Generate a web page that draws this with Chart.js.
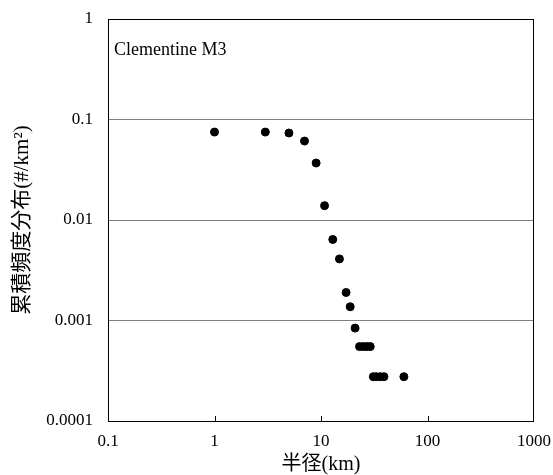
<!DOCTYPE html>
<html>
<head>
<meta charset="utf-8">
<script src="https://cdn.jsdelivr.net/npm/chart.js@4.4.0/dist/chart.umd.min.js"></script>
<style>
  body { margin: 0; background: #fff; }
  #wrap { width: 553px; height: 475px; }
</style>
</head>
<body>
<div id="wrap"><canvas id="craterChart" width="553" height="475"></canvas></div>
<script>
// radius (km) vs cumulative frequency (#/km^2)
const radiusKm = [1, 3, 5, 7, 9, 10.8, 12.9, 14.9, 17.2, 18.8, 20.9, 23, 25, 27, 29, 31, 33, 36, 39, 60];
const cumFreq = [0.075, 0.075, 0.0734, 0.061, 0.0369, 0.0139, 0.0064, 0.0041, 0.0019, 0.00137, 0.00084,
  0.00055, 0.00055, 0.00055, 0.00055, 0.000276, 0.000276, 0.000276, 0.000276, 0.000276];
const xTickValues = [0.1, 1, 10, 100, 1000];
const yTickValues = [0.0001, 0.001, 0.01, 0.1, 1];
const seriesLabel = "Clementine M3";

const serif = "'Liberation Serif', 'Noto Sans CJK JP', serif";

// frame, inward x tick marks and the in-plot label
const framePlugin = {
  id: "frame",
  afterDraw(chart) {
    const { ctx, chartArea } = chart;
    const xScale = chart.scales.x;
    ctx.save();
    ctx.strokeStyle = "#000";
    ctx.lineWidth = 1;
    ctx.strokeRect(chartArea.left + 0.5, chartArea.top + 0.5,
      chartArea.right - chartArea.left - 1, chartArea.bottom - chartArea.top);
    xTickValues.slice(1, -1).forEach((v) => {
      const px = Math.round(xScale.getPixelForValue(v)) + 0.5;
      ctx.beginPath();
      ctx.moveTo(px, chartArea.bottom);
      ctx.lineTo(px, chartArea.bottom - 5);
      ctx.stroke();
    });
    ctx.fillStyle = "#000";
    ctx.font = "18px " + serif;
    ctx.textBaseline = "alphabetic";
    ctx.fillText(seriesLabel, chartArea.left + 6, chartArea.top + 36);
    ctx.restore();
  },
};

const ctx = document.getElementById("craterChart").getContext("2d");
new Chart(ctx, {
  type: "scatter",
  data: {
    datasets: [
      {
        label: seriesLabel,
        data: radiusKm.map((r, i) => ({ x: r, y: cumFreq[i] })),
        backgroundColor: "#000",
        borderColor: "#000",
        pointRadius: 4,
        pointHoverRadius: 4,
      },
    ],
  },
  options: {
    responsive: false,
    animation: false,
    layout: { padding: { top: 19, right: 19, bottom: 0, left: 0 } },
    plugins: { legend: { display: false }, tooltip: { enabled: false } },
    scales: {
      x: {
        type: "logarithmic",
        min: 0.1,
        max: 1000,
        afterBuildTicks: (scale) => { scale.ticks = xTickValues.map((v) => ({ value: v })); },
        afterFit: (scale) => { scale.height = 54; },
        grid: { display: false, drawTicks: true, tickLength: 10 },
        border: { display: false },
        ticks: {
          color: "#000",
          font: { family: serif, size: 17 },
          padding: 0,
          maxRotation: 0,
          callback: (v) => String(v),
        },
        title: {
          display: true,
          text: "半径(km)",
          color: "#000",
          font: { family: serif, size: 20 },
          padding: { top: 0, bottom: -2 },
        },
      },
      y: {
        type: "logarithmic",
        min: 0.0001,
        max: 1,
        afterBuildTicks: (scale) => { scale.ticks = yTickValues.map((v) => ({ value: v })); },
        afterFit: (scale) => { scale.width = 108; },
        grid: { color: "#808080", drawTicks: true, tickLength: 8, tickColor: "rgba(0,0,0,0)", lineWidth: 1 },
        border: { display: false },
        ticks: {
          color: "#000",
          font: { family: serif, size: 17 },
          padding: 7,
          callback: (v) => String(v),
        },
        title: {
          display: true,
          text: "累積頻度分布(#/km²)",
          color: "#000",
          font: { family: serif, size: 21 },
          padding: { top: 10, bottom: 0 },
        },
      },
    },
  },
  plugins: [framePlugin],
});
</script>
</body>
</html>
